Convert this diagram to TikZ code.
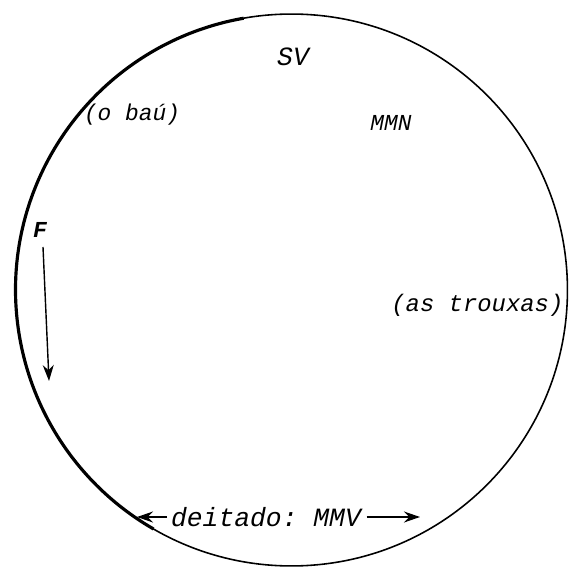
\documentclass[tikz,border=0pt]{standalone}
\usepackage{fontspec}
\setmonofont{Liberation Mono}
\usetikzlibrary{arrows.meta,positioning}
\tikzset{
  lbl/.style={font=\fontsize{15}{17}\selectfont\ttfamily\itshape, inner sep=0pt},
  lbls/.style={font=\fontsize{13}{15}\selectfont\ttfamily\itshape, inner sep=0pt},
  ar/.style={-{Stealth[length=3.2mm,width=2.2mm]}, line width=0.8pt},
  rim/.style={draw=black, line width=0.9pt},
}

\begin{document}
\begin{tikzpicture}[x=0.02cm,y=-0.02cm,
  rimthick/.style={draw=black, line width=1.8pt},
]
\useasboundingbox (0,0) rectangle (571,567);

% ===================== THE RING =====================
\coordinate (c) at (291.5,290);
\draw[rim] (c) circle[radius=5.52cm];
\draw[rimthick] ([shift={(100:5.52cm)}]c) arc[start angle=100,end angle=240,radius=5.52cm];

% ===================== LABELS INSIDE =====================
\node[lbl] (sv) at (293,57) {SV};
\node[lbls] (bau) at (132,115) {(o baú)};
\node[lbls] (mmn) at (391,123) {MMN};
\node[lbls, font=\fontsize{13}{15}\selectfont\ttfamily\itshape\bfseries] (f) at (40,230) {F};
\node[lbl, font=\fontsize{13.6}{15}\selectfont\ttfamily\itshape, anchor=west] (trouxas) at (391,305) {(as trouxas)};
\node[lbl] (mmv) at (266,517) {deitado: MMV};

% ===================== ARROWS =====================
\coordinate (ftop) at (43,247);
\coordinate (fend) at (49,381);
\draw[ar] (ftop) -- (fend);
\coordinate (mmvl) at (137,517);
\coordinate (mmvr) at (420,517);
\draw[ar] ([xshift=-2pt]mmv.west) -- (mmvl);
\draw[ar] ([xshift=3pt]mmv.east) -- (mmvr);

\end{tikzpicture}
\end{document}
